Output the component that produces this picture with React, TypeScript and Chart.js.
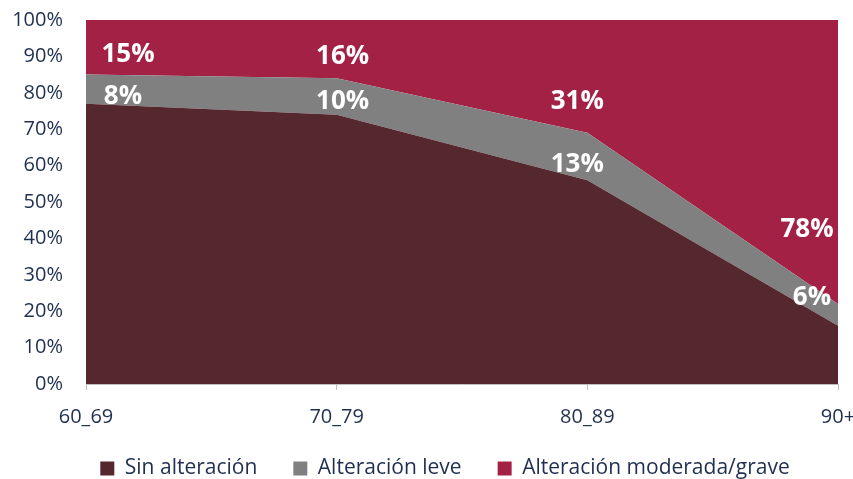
import React, { useEffect, useRef } from "react";
import { Chart, registerables } from "chart.js";

Chart.register(...registerables);

const categories = ["60_69", "70_79", "80_89", "90+"];
const sinAlteracion = [77, 74, 56, 16];
const alteracionLeve = [8, 10, 13, 6];
const alteracionModerada = [15, 16, 31, 78];
const yTicks = [0, 10, 20, 30, 40, 50, 60, 70, 80, 90, 100];

const seriesNames = ["Sin alteración", "Alteración leve", "Alteración moderada/grave"];
const colors = ["#55272F", "#808080", "#A32144"];

// label placement tweaks (pixels) per category, per labelled series
const labelDx: Record<number, number[]> = {
  1: [37, 6, -10, -26],
  2: [42, 6, -10, -31],
};
const labelDy: Record<number, number[]> = {
  1: [7, 5, 8, -17],
  2: [7, 7, 25, 68],
};

const FONT = "'Open Sans', 'Noto Sans', sans-serif";

export default function App() {
  const ref = useRef<HTMLCanvasElement | null>(null);
  useEffect(() => {
    if (!ref.current) return;
    const labelPlugin = {
      id: "areaLabels",
      afterDatasetsDraw(chart: any) {
        const ctx = chart.ctx;
        const xs = chart.scales.x;
        const ys = chart.scales.y;
        ctx.save();
        ctx.fillStyle = "#FFFFFF";
        ctx.font = `bold 26px ${FONT}`;
        ctx.textAlign = "center";
        ctx.textBaseline = "middle";
        [1, 2].forEach((di) => {
          const data = chart.data.datasets[di].data as number[];
          data.forEach((v: number, i: number) => {
            let base = 0;
            for (let k = 0; k < di; k++) base += chart.data.datasets[k].data[i] as number;
            const mid = base + v / 2;
            const x = xs.getPixelForValue(i) + labelDx[di][i];
            const y = ys.getPixelForValue(mid) + labelDy[di][i];
            ctx.fillText(`${v}%`, x, y);
          });
        });
        ctx.restore();
      },
    };
    const legendFitPlugin = {
      id: "legendFit",
      afterInit(chart: any) {
        const l = chart.legend;
        if (!l) return;
        const orig = l.fit.bind(l);
        l.fit = () => {
          orig();
          l.height = 47;
        };
      },
      afterLayout(chart: any) {
        const l = chart.legend;
        if (!l) return;
        l.left += 26;
        l.right += 26;
        l.top -= 10;
      },
    };
    const chart = new Chart(ref.current, {
      type: "line",
      data: {
        labels: categories,
        datasets: [sinAlteracion, alteracionLeve, alteracionModerada].map((d, i) => ({
          label: seriesNames[i],
          data: d,
          backgroundColor: colors[i],
          borderColor: colors[i],
          borderWidth: 0,
          pointRadius: 0,
          fill: i === 0 ? "origin" : "-1",
          tension: 0,
        })),
      },
      options: {
        animation: false,
        responsive: true,
        maintainAspectRatio: false,
        layout: { padding: { top: 20, right: 15, left: 0, bottom: 0 } },
        scales: {
          x: {
            offset: false,
            grid: { display: true, drawOnChartArea: false, drawTicks: true, tickLength: 6, color: "#BFBFBF" },
            border: { display: true, color: "#BFBFBF", width: 1 },
            ticks: { color: "#1F2F4F", font: { family: FONT, size: 20 }, padding: 15, maxRotation: 0 },
            afterFit: (s: any) => {
              s.height = 48;
              s.paddingLeft = 0;
              s.paddingRight = 0;
            },
          },
          y: {
            stacked: true,
            min: 0,
            max: 100,
            afterBuildTicks: (s: any) => {
              s.ticks = yTicks.map((v) => ({ value: v }));
            },
            afterFit: (s: any) => {
              s.width = 86;
              s.paddingTop = 0;
              s.paddingBottom = 0;
            },
            grid: { display: false, drawTicks: false },
            border: { display: false },
            ticks: {
              color: "#1F2F4F",
              font: { family: FONT, size: 20 },
              padding: 23,
              callback: (v: any) => `${v}%`,
            },
          },
        },
        plugins: {
          legend: {
            position: "bottom",
            labels: {
              color: "#1F2F4F",
              font: { family: FONT, size: 21 },
              boxWidth: 14,
              boxHeight: 14,
              padding: 36,
            },
          },
          tooltip: { enabled: false },
        },
      },
      plugins: [labelPlugin, legendFitPlugin],
    });
    return () => chart.destroy();
  }, []);
  return (
    <div style={{ position: "fixed", left: 0, top: 0, width: 853, height: 479 }}>
      <canvas ref={ref} />
    </div>
  );
}
